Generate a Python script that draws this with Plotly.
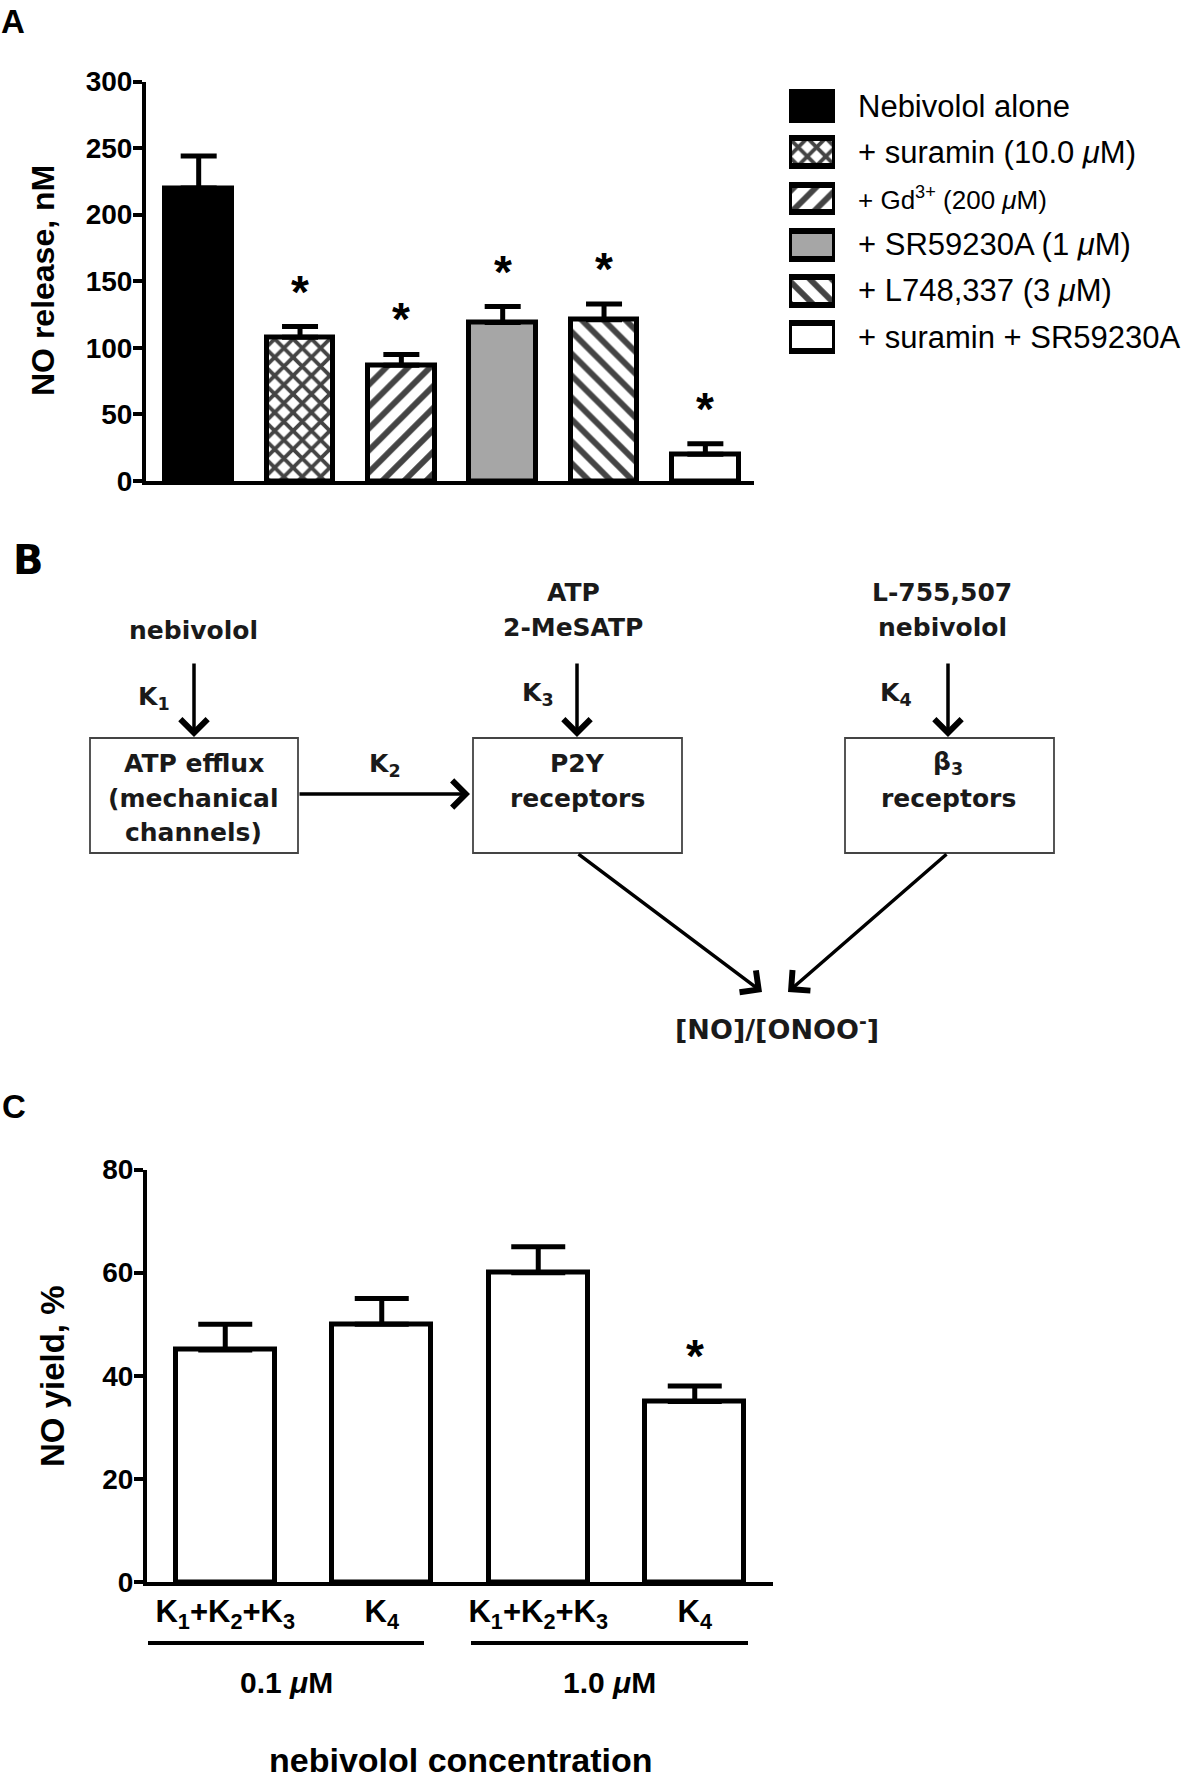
import plotly.graph_objects as go

W, H = 1200, 1786

# ---------------- data ----------------
# Panel A
a_labels = ["Nebivolol alone",
            "+ suramin (10.0 <i>μ</i>M)",
            "+ Gd<sup>3+</sup> (200 <i>μ</i>M)",
            "+ SR59230A (1 <i>μ</i>M)",
            "+ L748,337 (3 <i>μ</i>M)",
            "+ suramin + SR59230A"]
a_values = [220, 108, 87, 119, 121, 20]
a_errors = [24, 8, 8, 12, 12, 8]
a_sig = [False, True, True, True, True, True]
a_ticks = [0, 50, 100, 150, 200, 250, 300]

# Panel C
c_labels = ["K<sub>1</sub>+K<sub>2</sub>+K<sub>3</sub>", "K<sub>4</sub>",
            "K<sub>1</sub>+K<sub>2</sub>+K<sub>3</sub>", "K<sub>4</sub>"]
c_values = [45, 50, 60, 35]
c_errors = [5, 5, 5, 3]
c_sig = [False, False, False, True]
c_groups = ["0.1 <i>μ</i>M", "1.0 <i>μ</i>M"]
c_ticks = [0, 20, 40, 60, 80]

# ---------------- styles ----------------
ARIAL = "Liberation Sans, Arial, sans-serif"
DIAG = "DejaVu Sans, sans-serif"

a_fill = ["black", "white", "white", "#a6a6a6", "white", "white"]
a_shape = ["", "x", "/", "", "\\", ""]
a_psize = [10, 13, 15.5, 10, 15.5, 10]
a_psolid = [0.3, 0.5, 0.38, 0.3, 0.38, 0.3]


def px(x):
    return x / W


def py(y):
    return 1 - y / H


fig = go.Figure()

# Panel A bars
fig.add_trace(go.Bar(
    x=list(range(len(a_values))), y=a_values, width=0.66,
    marker=dict(color=a_fill, line=dict(color="black", width=5),
                pattern=dict(shape=a_shape, fgcolor="black", bgcolor="white",
                             fgopacity=1, size=a_psize, solidity=a_psolid)),
    error_y=dict(type="data", array=a_errors, arrayminus=[0] * len(a_errors),
                 symmetric=False, color="black", thickness=5, width=18),
    xaxis="x", yaxis="y", showlegend=False, hoverinfo="skip"))

# Legend swatches (own hidden axes)
fig.add_trace(go.Bar(
    x=[1] * len(a_values), y=list(range(len(a_values))), orientation="h", width=0.6,
    marker=dict(color=a_fill, line=dict(color="black", width=6),
                pattern=dict(shape=a_shape, fgcolor="black", bgcolor="white",
                             fgopacity=1, size=a_psize, solidity=a_psolid)),
    xaxis="x3", yaxis="y3", showlegend=False, hoverinfo="skip"))

# Panel C bars
fig.add_trace(go.Bar(
    x=list(range(len(c_values))), y=c_values, width=0.633,
    marker=dict(color="white", line=dict(color="black", width=5)),
    error_y=dict(type="data", array=c_errors, arrayminus=[0] * len(c_errors),
                 symmetric=False, color="black", thickness=5, width=27),
    xaxis="x2", yaxis="y2", showlegend=False, hoverinfo="skip"))

axis_common = dict(showgrid=False, zeroline=False, showline=True, linecolor="black",
                   linewidth=4, fixedrange=True, automargin=False)

legend_y0, legend_dy = 106, 46.2

fig.update_layout(
    width=W, height=H, margin=dict(l=0, r=0, t=0, b=0, pad=0, autoexpand=False),
    paper_bgcolor="white", plot_bgcolor="white", bargap=0,
    xaxis=dict(domain=[px(146), px(754)], range=[-0.52, 5.48], anchor="y",
               showticklabels=False, ticks="", **axis_common),
    yaxis=dict(domain=[py(481), py(81.5)], range=[0, 300], anchor="x",
               tickvals=a_ticks, ticks="outside", ticklen=9, tickwidth=4, tickcolor="black",
               ticklabelstandoff=-5,
               tickfont=dict(family=ARIAL, size=28, color="black", weight="bold"),
               **axis_common),
    xaxis2=dict(domain=[px(147), px(773)], range=[-0.5, 3.5], anchor="y2",
                tickvals=list(range(len(c_labels))), ticktext=c_labels, ticks="",
                ticklabelstandoff=-1,
                tickfont=dict(family=ARIAL, size=31, color="black", weight="bold"),
                **axis_common),
    yaxis2=dict(domain=[py(1582), py(1169.5)], range=[0, 80], anchor="x2",
                tickvals=c_ticks, ticks="outside", ticklen=9, tickwidth=4, tickcolor="black",
                ticklabelstandoff=-5,
                tickfont=dict(family=ARIAL, size=28, color="black", weight="bold"),
                **axis_common),
    xaxis3=dict(domain=[px(789), px(835)], range=[0, 1], anchor="y3", visible=False,
                fixedrange=True, automargin=False),
    yaxis3=dict(domain=[py(legend_y0 + 5.5 * legend_dy), py(legend_y0 - 0.5 * legend_dy)],
                range=[5.5, -0.5], anchor="x3", visible=False,
                fixedrange=True, automargin=False),
)

ann = []
shapes = []

# Asterisks
for i, s in enumerate(a_sig):
    if s:
        ann.append(dict(x=i, y=a_values[i] + a_errors[i], xref="x", yref="y", text="*",
                        showarrow=False, xanchor="center", yanchor="bottom", yshift=7,
                        font=dict(family=ARIAL, size=46, color="black", weight="bold")))
for i, s in enumerate(c_sig):
    if s:
        ann.append(dict(x=i, y=c_values[i] + c_errors[i], xref="x2", yref="y2", text="*",
                        showarrow=False, xanchor="center", yanchor="bottom", yshift=2,
                        font=dict(family=ARIAL, size=46, color="black", weight="bold")))

# Axis titles
ann.append(dict(x=px(43), y=py(281), xref="paper", yref="paper", text="NO release, nM",
                textangle=-90, showarrow=False, xanchor="center", yanchor="middle",
                font=dict(family=ARIAL, size=32, color="black", weight="bold")))
ann.append(dict(x=px(52), y=py(1376), xref="paper", yref="paper", text="NO yield, %",
                textangle=-90, showarrow=False, xanchor="center", yanchor="middle",
                font=dict(family=ARIAL, size=33, color="black", weight="bold")))

# Legend texts
for i, lab in enumerate(a_labels):
    size = 26 if "Gd" in lab else 31
    ann.append(dict(x=px(856), y=py(legend_y0 + i * legend_dy), xref="paper", yref="paper",
                    text=lab, showarrow=False, xanchor="left", yanchor="middle",
                    font=dict(family=ARIAL, size=size, color="black")))

# Panel letters
ann.append(dict(x=px(13), y=py(21), xref="paper", yref="paper", text="A", showarrow=False,
                xanchor="center", yanchor="middle",
                font=dict(family=ARIAL, size=33, color="black", weight="bold")))
ann.append(dict(x=px(28), y=py(560), xref="paper", yref="paper", text="B", showarrow=False,
                xanchor="center", yanchor="middle",
                font=dict(family=DIAG, size=40, color="black", weight="bold")))
ann.append(dict(x=px(14), y=py(1106), xref="paper", yref="paper", text="C", showarrow=False,
                xanchor="center", yanchor="middle",
                font=dict(family=ARIAL, size=33, color="black", weight="bold")))

# Panel C group brackets
group_spans = [(148, 424), (471, 748)]
for (x0, x1), g in zip(group_spans, c_groups):
    shapes.append(dict(type="line", xref="paper", yref="paper", x0=px(x0), x1=px(x1),
                       y0=py(1643), y1=py(1643), line=dict(color="black", width=4)))
    ann.append(dict(x=px((x0 + x1) / 2), y=py(1682), xref="paper", yref="paper", text=g,
                    showarrow=False, xanchor="center", yanchor="middle",
                    font=dict(family=ARIAL, size=30, color="black", weight="bold")))
ann.append(dict(x=px(460), y=py(1760), xref="paper", yref="paper",
                text="nebivolol concentration", showarrow=False,
                xanchor="center", yanchor="middle",
                font=dict(family=ARIAL, size=34, color="black", weight="bold")))

# ---------------- Panel B diagram ----------------
boxes = [(90, 738, 298, 853), (473, 738, 682, 853), (845, 738, 1054, 853)]
for x0, y0, x1, y1 in boxes:
    shapes.append(dict(type="rect", xref="paper", yref="paper", x0=px(x0), x1=px(x1),
                       y0=py(y1), y1=py(y0), line=dict(color="#444444", width=1.8)))

diag_text = [
    (194, 630, "nebivolol", 25),
    (573, 592, "ATP", 25), (573, 627, "2-MeSATP", 25),
    (942, 592, "L-755,507", 25), (942, 627, "nebivolol", 25),
    (194, 763, "ATP efflux", 25), (194, 798, "(mechanical", 25), (194, 832, "channels)", 25),
    (577, 763, "P2Y", 25), (577, 798, "receptors", 25),
    (948, 763, "β<sub>3</sub>", 25), (948, 798, "receptors", 25),
    (154, 698, "K<sub>1</sub>", 25), (538, 694, "K<sub>3</sub>", 25),
    (896, 694, "K<sub>4</sub>", 25), (385, 765, "K<sub>2</sub>", 25),
    (777, 1027, "[NO]/[ONOO<sup>-</sup>]", 27),
]
for x, y, t, fs in diag_text:
    ann.append(dict(x=px(x), y=py(y), xref="paper", yref="paper", text=t, showarrow=False,
                    xanchor="center", yanchor="middle",
                    font=dict(family=DIAG, size=fs, color="#1a1a1a", weight="bold")))

arrows = [((194, 662), (194, 737)), ((577, 662), (577, 737)), ((948, 662), (948, 737)),
          ((298, 794), (470, 794)), ((577, 853), (762, 992)), ((948, 853), (788, 992))]
for (tx, ty), (hx, hy) in arrows:
    ann.append(dict(x=px(hx), y=py(hy), xref="paper", yref="paper", ax=tx - hx, ay=ty - hy,
                    axref="pixel", ayref="pixel", text="", showarrow=True, arrowhead=4,
                    arrowsize=1.5, arrowwidth=3.5, arrowcolor="black", standoff=0))

fig.update_layout(annotations=ann, shapes=shapes)

fig.write_html("out.html", config={"displayModeBar": False},
               post_script="document.body.style.margin='0px';")
